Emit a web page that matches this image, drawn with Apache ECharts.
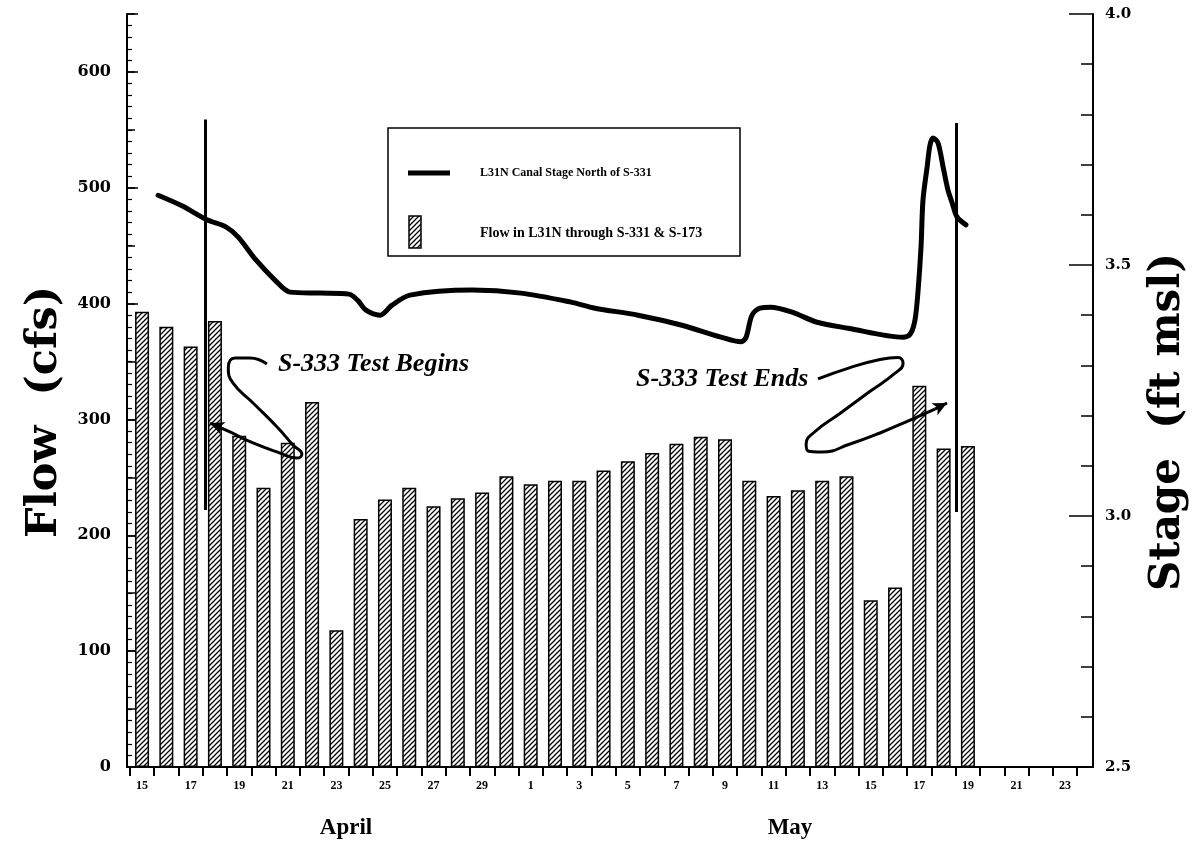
<!DOCTYPE html>
<html>
<head>
<meta charset="utf-8">
<script src="https://cdn.jsdelivr.net/npm/echarts@6.0.0/dist/echarts.min.js"></script>
<style>
html,body{margin:0;padding:0;background:#fff;}
#chart{width:1197px;height:844px;}
</style>
</head>
<body>
<div id="chart"></div>
<script>
// ---- data ----
const dayLabels = ['15','16','17','18','19','20','21','22','23','24','25','26','27','28','29','30',
  '1','2','3','4','5','6','7','8','9','10','11','12','13','14','15','16','17','18','19','20','21','22','23'];
const flowCfs = [393,380,363,385,286,241,280,315,118,214,231,241,225,232,237,251,
  244,247,247,256,264,271,279,285,283,247,234,239,247,251,144,155,329,275,277];
const stageDay = [0.66,1.64,2.67,3.45,3.95,4.69,5.47,6.09,7.33,8.52,8.89,9.22,9.80,10.29,11.03,
  13.58,15.60,17.66,18.65,20.42,22.23,23.79,24.66,24.86,25.11,25.44,25.89,26.76,27.79,29.07,
  31.33,31.62,31.82,31.95,32.07,32.15,32.32,32.44,32.57,32.77,32.98,33.18,33.35,33.55,33.92];
const stageFt = [3.639,3.618,3.590,3.576,3.556,3.510,3.470,3.446,3.444,3.442,3.429,3.410,3.400,3.420,3.440,
  3.450,3.444,3.426,3.414,3.400,3.380,3.357,3.347,3.355,3.400,3.414,3.416,3.406,3.386,3.374,
  3.356,3.362,3.390,3.450,3.536,3.629,3.695,3.739,3.753,3.743,3.695,3.649,3.624,3.596,3.580];
// test start / end markers: [day, top stage, bottom stage]
const testBegin = [2.59, 3.79, 3.012];
const testEnd = [33.52, 3.783, 3.008];
// annotation arrow paths (day, cfs)
const beginPath = [[5.14,347.9],[4.44,353],[3.83,353],[3.55,344.4],[3.74,331.5],[4.57,314.2],[5.56,293.5],
  [6.21,278],[6.58,270.2],[6.38,266.7],[5.68,271],[4.57,279.7],[3.62,289.2],[3.0,295.2]];
const beginTip = [2.80,296.9];
const endPath = [[27.83,335],[29.15,344.8],[30.38,351.7],[31.12,353.5],[31.33,348.3],[30.99,339.7],[29.96,324.1],
  [28.73,305.1],[27.71,289.6],[27.34,278.8],[27.42,272.8],[27.99,271.9],[29.15,278.8],[30.38,288.3],[31.62,299.5],[32.64,309]];
const endTip = [33.14,314.2];

const SERIF = "'Liberation Serif','DejaVu Serif',serif";
const WIDE = "'DejaVu Serif','Liberation Serif',serif";
const chart = echarts.init(document.getElementById('chart'), null, {renderer:'canvas'});

// "/" hatch tile
function makeHatch() {
  const s = 5, c = document.createElement('canvas');
  c.width = s; c.height = s;
  const g = c.getContext('2d');
  g.fillStyle = '#fff'; g.fillRect(0, 0, s, s);
  g.strokeStyle = '#000'; g.lineWidth = 1.3; g.lineCap = 'square';
  g.beginPath();
  g.moveTo(-1, s + 1); g.lineTo(s + 1, -1);
  g.moveTo(-2, 2); g.lineTo(2, -2);
  g.moveTo(s - 2, s + 2); g.lineTo(s + 2, s - 2);
  g.stroke();
  return c;
}
const hatchFill = {image: makeHatch(), repeat: 'repeat'};

const xTickVals = [];
for (let i = -0.5; i <= 38.5; i += 1) xTickVals.push(i);
const xLabelVals = [];
for (let i = 0; i < dayLabels.length; i += 2) xLabelVals.push(i);

function arrowSeries(path, tip) {
  const last = path[path.length - 1];
  return {
    type:'line', xAxisIndex:0, yAxisIndex:0, data:path, smooth:0.5, symbol:'none', silent:true,
    lineStyle:{color:'#000', width:3}, z:5,
    markLine:{silent:true, symbol:['none','arrow'], symbolSize:[10,14], label:{show:false},
      lineStyle:{color:'#000', width:3, type:'solid'},
      data:[[{coord:last},{coord:tip}]]}
  };
}

const option = {
  animation:false,
  backgroundColor:'#fff',
  grid:{left:127, right:104, top:14, bottom:77},
  xAxis:{
    type:'value', min:-0.62, max:39.15,
    axisLine:{show:true, onZero:false, lineStyle:{color:'#000', width:2}},
    axisTick:{show:true, customValues:xTickVals, length:9, inside:false, lineStyle:{color:'#000', width:2}},
    axisLabel:{show:true, customValues:xLabelVals, formatter:v => dayLabels[Math.round(v)] || '',
      fontFamily:SERIF, fontWeight:'bold', fontSize:12, color:'#000', margin:13},
    splitLine:{show:false}
  },
  yAxis:[
    {type:'value', position:'left', min:0, max:650, interval:100,
      axisLine:{show:true, onZero:false, lineStyle:{color:'#000', width:2}},
      axisTick:{show:true, inside:true, length:11, lineStyle:{color:'#000', width:1.5}},
      minorTick:{show:true, splitNumber:10, length:5, lineStyle:{color:'#000', width:1.2}},
      axisLabel:{fontFamily:WIDE, fontWeight:'bold', fontSize:16, color:'#000', margin:16, showMaxLabel:false},
      splitLine:{show:false}},
    {type:'value', position:'right', min:2.5, max:4.0, interval:0.5,
      axisLine:{show:true, onZero:false, lineStyle:{color:'#000', width:2}},
      axisTick:{show:true, inside:true, length:24, lineStyle:{color:'#000', width:1.5}},
      minorTick:{show:true, splitNumber:5, length:12, lineStyle:{color:'#000', width:1.5}},
      axisLabel:{fontFamily:WIDE, fontWeight:'bold', fontSize:15, color:'#000', margin:12,
        formatter:v => v.toFixed(1)},
      splitLine:{show:false}},
    {type:'value', position:'left', min:0, max:650, interval:50,
      axisLine:{show:false, onZero:false}, axisLabel:{show:false}, splitLine:{show:false},
      axisTick:{show:true, inside:true, length:8, lineStyle:{color:'#000', width:1.5}}}
  ],
  series:[
    {type:'bar', xAxisIndex:0, yAxisIndex:0, data:flowCfs.map((v,i)=>[i,v]), barWidth:14, silent:true,
      itemStyle:{color:hatchFill, borderColor:'#000', borderWidth:1.5}},
    {type:'line', xAxisIndex:0, yAxisIndex:1, data:stageDay.map((d,k)=>[d, stageFt[k]]),
      smooth:0.3, symbol:'none', silent:true, z:4,
      lineStyle:{color:'#000', width:5, join:'round', cap:'round'},
      markLine:{silent:true, symbol:['none','none'], label:{show:false},
        lineStyle:{color:'#000', width:3, type:'solid'},
        data:[[{coord:[testBegin[0],testBegin[1]]},{coord:[testBegin[0],testBegin[2]]}],
              [{coord:[testEnd[0],testEnd[1]]},{coord:[testEnd[0],testEnd[2]]}]]}},
    arrowSeries(beginPath, beginTip),
    arrowSeries(endPath, endTip)
  ],
  graphic:[
    {type:'rect', shape:{x:388, y:128, width:352, height:128}, style:{fill:'none', stroke:'#000', lineWidth:1.5}},
    {type:'line', shape:{x1:408, y1:173, x2:450, y2:173}, style:{stroke:'#000', lineWidth:5}},
    {type:'text', x:480, y:173, style:{text:'L31N Canal Stage North of S-331', font:"bold 12px "+SERIF, fill:'#000', verticalAlign:'middle'}},
    {type:'rect', shape:{x:409, y:216, width:12, height:32}, style:{fill:hatchFill, stroke:'#000', lineWidth:1.5}},
    {type:'text', x:480, y:233, style:{text:'Flow in L31N through S-331 & S-173', font:"bold 14px "+SERIF, fill:'#000', verticalAlign:'middle'}},
    {type:'text', x:278, y:364, style:{text:'S-333 Test Begins', font:"italic bold 26px "+SERIF, fill:'#000', verticalAlign:'middle'}},
    {type:'text', x:636, y:379, style:{text:'S-333 Test Ends', font:"italic bold 26px "+SERIF, fill:'#000', verticalAlign:'middle'}},
    {type:'text', x:346, y:828, style:{text:'April', font:"bold 23px "+SERIF, fill:'#000', align:'center', verticalAlign:'middle'}},
    {type:'text', x:790, y:828, style:{text:'May', font:"bold 23px "+SERIF, fill:'#000', align:'center', verticalAlign:'middle'}},
    {type:'text', x:45, y:412, rotation:Math.PI/2, style:{text:'Flow  (cfs)', font:"bold 43px "+WIDE, fill:'#000', align:'center', verticalAlign:'middle'}},
    {type:'text', x:1168, y:422, rotation:Math.PI/2, style:{text:'Stage  (ft msl)', font:"bold 42px "+WIDE, fill:'#000', align:'center', verticalAlign:'middle'}}
  ]
};
chart.setOption(option);
</script>
</body>
</html>
